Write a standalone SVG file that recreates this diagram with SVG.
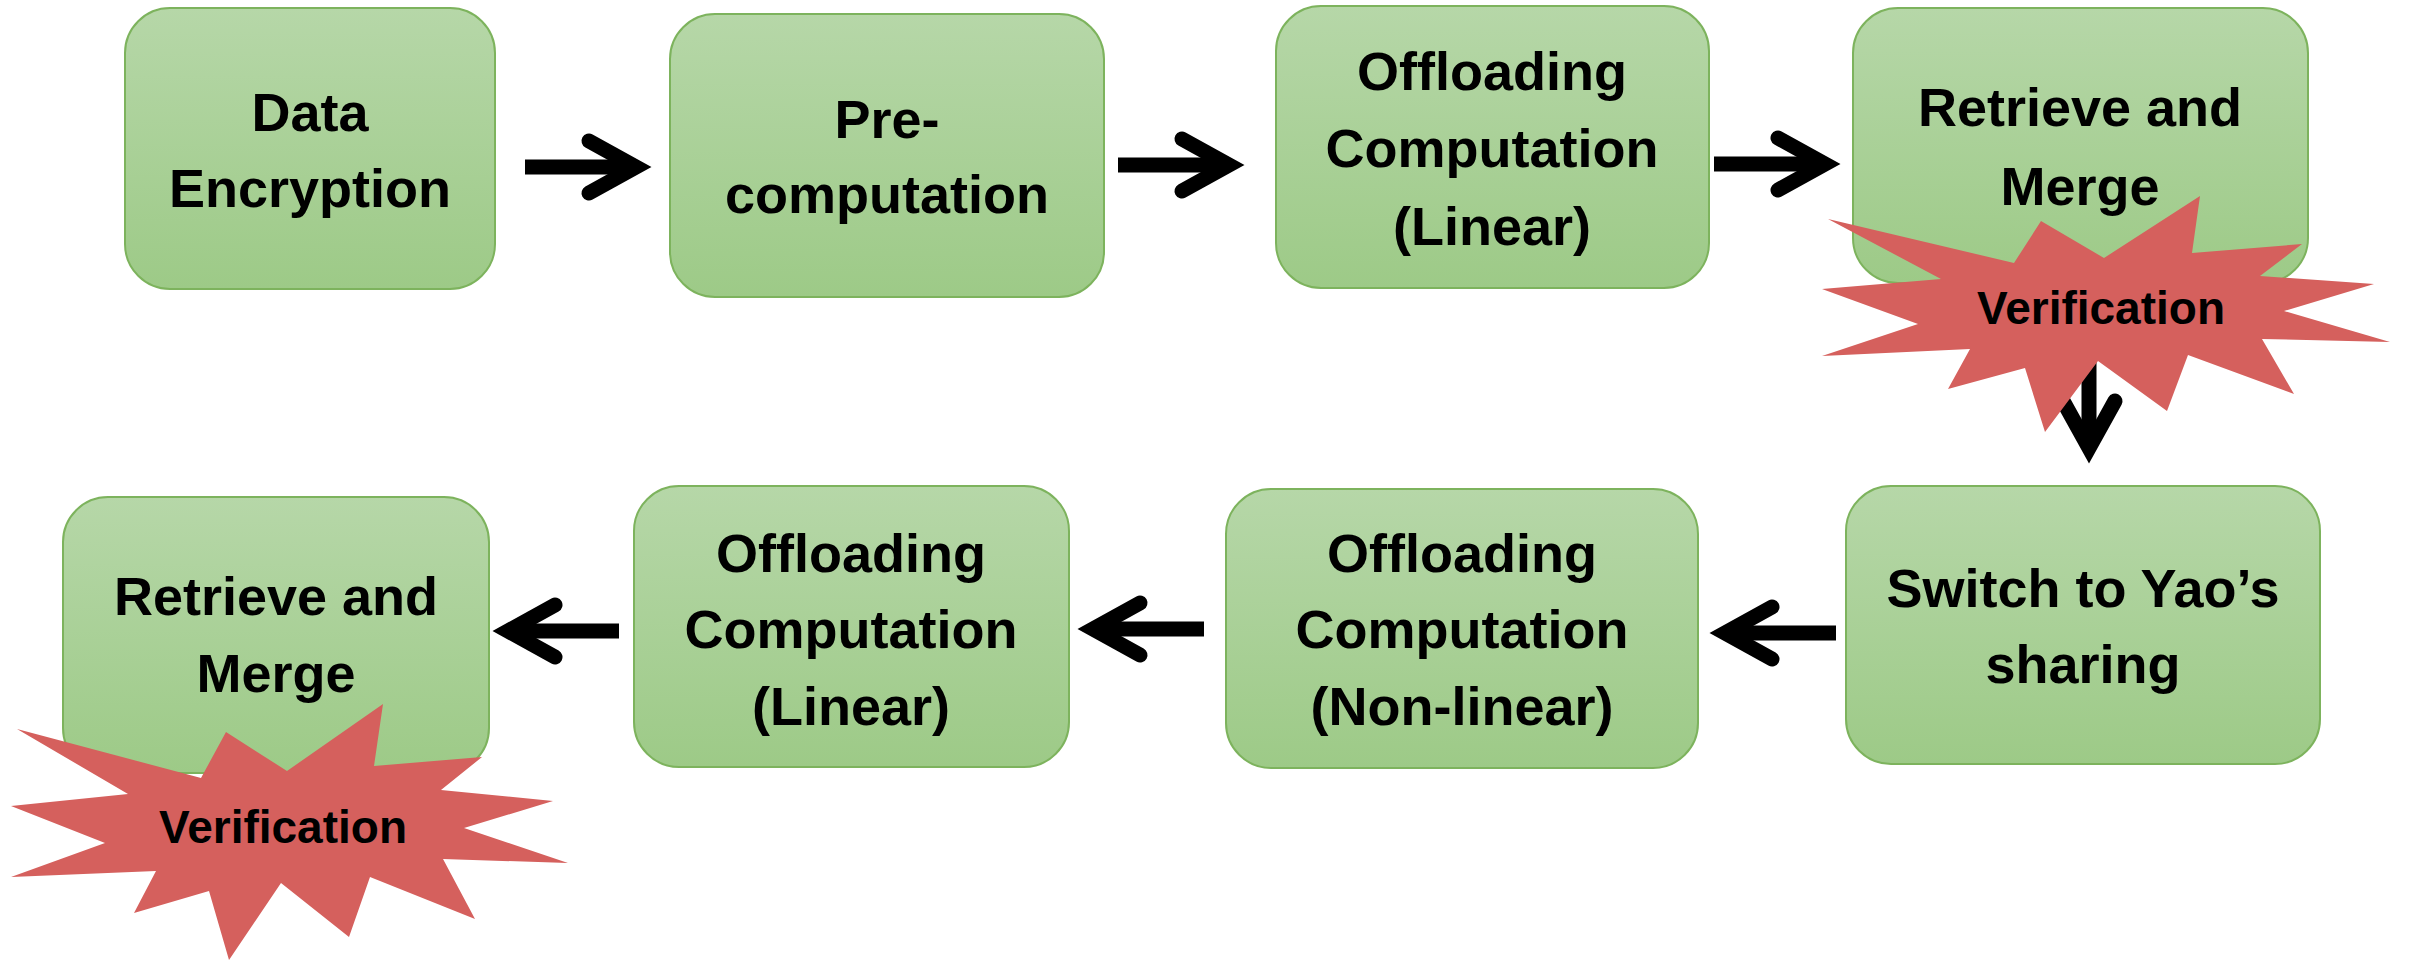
<svg xmlns="http://www.w3.org/2000/svg" xmlns:xlink="http://www.w3.org/1999/xlink" width="2412" height="961" viewBox="0 0 2412 961">
  <style>
    .box { fill: url(#boxFill); stroke: #7db35d; stroke-width: 2; }
    .lbl { font-family: "Liberation Sans", Arial, sans-serif; font-weight: bold; font-size: 54px; fill: #000; text-anchor: middle; }
    .burst { fill: #d5605d; }
    .vlbl { font-family: "Liberation Sans", Arial, sans-serif; font-weight: bold; font-size: 46px; fill: #000; text-anchor: middle; }
    .shaft { fill: none; stroke: #000; stroke-width: 15; stroke-linecap: butt; }
    .head { fill: none; stroke: #000; stroke-width: 15; stroke-linecap: round; stroke-linejoin: miter; }
  </style>
  <defs>
    <linearGradient id="boxFill" x1="0" y1="0" x2="0" y2="1">
      <stop offset="0" stop-color="#b6d7a8"/>
      <stop offset="1" stop-color="#9dca87"/>
    </linearGradient>
    <!-- open-head arrow, tip at origin, pointing right -->
    <g id="arrow">
      <line class="shaft" x1="-126" y1="0" x2="-16" y2="0"/>
      <polyline class="head" points="-62,-26 -15,0 -62,26"/>
    </g>
  </defs>

  <rect width="2412" height="961" fill="#fff"/>

  <g id="n1">
    <rect class="box" x="125" y="8" width="370" height="281" rx="45"/>
    <text class="lbl" x="310" y="131">Data</text>
    <text class="lbl" x="310" y="207">Encryption</text>
  </g>
  <g id="n2">
    <rect class="box" x="670" y="14" width="434" height="283" rx="45"/>
    <text class="lbl" x="887" y="138">Pre-</text>
    <text class="lbl" x="887" y="213">computation</text>
  </g>
  <g id="n3">
    <rect class="box" x="1276" y="6" width="433" height="282" rx="45"/>
    <text class="lbl" x="1492" y="90">Offloading</text>
    <text class="lbl" x="1492" y="167">Computation</text>
    <text class="lbl" x="1492" y="245">(Linear)</text>
  </g>
  <g id="n4">
    <rect class="box" x="1853" y="8" width="455" height="275" rx="45"/>
    <text class="lbl" x="2080" y="126">Retrieve and</text>
    <text class="lbl" x="2080" y="205">Merge</text>
  </g>
  <g id="n5">
    <rect class="box" x="63" y="497" width="426" height="276" rx="45"/>
    <text class="lbl" x="276" y="615">Retrieve and</text>
    <text class="lbl" x="276" y="692">Merge</text>
  </g>
  <g id="n6">
    <rect class="box" x="634" y="486" width="435" height="281" rx="45"/>
    <text class="lbl" x="851" y="572">Offloading</text>
    <text class="lbl" x="851" y="648">Computation</text>
    <text class="lbl" x="851" y="725">(Linear)</text>
  </g>
  <g id="n7">
    <rect class="box" x="1226" y="489" width="472" height="279" rx="45"/>
    <text class="lbl" x="1462" y="572">Offloading</text>
    <text class="lbl" x="1462" y="648">Computation</text>
    <text class="lbl" x="1462" y="725">(Non-linear)</text>
  </g>
  <g id="n8">
    <rect class="box" x="1846" y="486" width="474" height="278" rx="45"/>
    <text class="lbl" x="2083" y="607">Switch to Yao’s</text>
    <text class="lbl" x="2083" y="683">sharing</text>
  </g>

  <g id="connectors">
    <use xlink:href="#arrow" href="#arrow" transform="translate(651,167)"/>
    <use xlink:href="#arrow" href="#arrow" transform="translate(1244,165)"/>
    <use xlink:href="#arrow" href="#arrow" transform="translate(1840,164)"/>
    <use xlink:href="#arrow" href="#arrow" transform="translate(2089,463) rotate(90)"/>
    <use xlink:href="#arrow" href="#arrow" transform="translate(1710,633) rotate(180)"/>
    <use xlink:href="#arrow" href="#arrow" transform="translate(1078,629) rotate(180)"/>
    <use xlink:href="#arrow" href="#arrow" transform="translate(493,631) rotate(180)"/>
  </g>

  <g id="verify1">
    <polygon class="burst" points="2200,196 2192,253 2302,244 2260,276 2374,284 2284,311 2390,342 2262,339 2294,394 2188,355 2167,411 2098,361 2045,432 2025,368 1948,389 1970,349 1822,356 1918,324 1822,289 1941,279 1828,219 2014,263 2041,221 2104,258"/>
    <text class="vlbl" x="2101" y="324">Verification</text>
  </g>
  <g id="verify2">
    <polygon class="burst" points="383,704 374,766 482,757 441,790 553,801 464,828 568,863 443,859 475,919 370,877 349,937 281,883 229,960 209,891 134,913 156,871 11,877 105,843 11,806 128,794 17,729 201,778 226,732 287,771"/>
    <text class="vlbl" x="283" y="843">Verification</text>
  </g>
</svg>
